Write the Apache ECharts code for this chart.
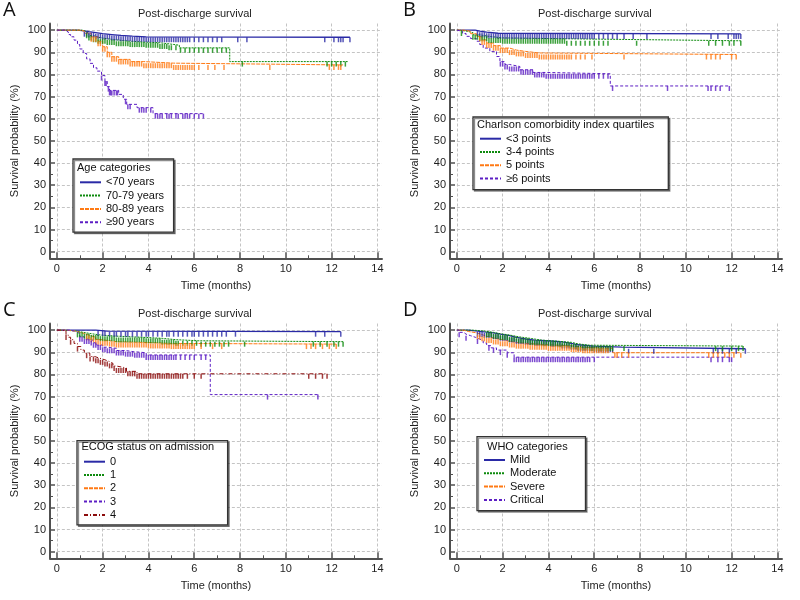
<!DOCTYPE html>
<html><head><meta charset="utf-8">
<script src="https://cdn.jsdelivr.net/npm/echarts@6/dist/echarts.min.js"></script>
<style>html,body{margin:0;padding:0;background:#fff}#c{width:800px;height:600px}</style>
</head><body><div id="c"></div><script>
// ---------- tick labels ----------
const xTickLabels = [0, 2, 4, 6, 8, 10, 12, 14];
const xMinorTicks = [1, 3, 5, 7, 9, 11, 13];
const yTickLabels = [0, 10, 20, 30, 40, 50, 60, 70, 80, 90, 100];
const yMinorTicks = [5, 15, 25, 35, 45, 55, 65, 75, 85, 95];
const panelLetters = ['A', 'B', 'C', 'D'];
const panelTitle = 'Post-discharge survival';
const xName = 'Time (months)';
const yName = 'Survival probability (%)';
const legendTitles = ['Age categories', 'Charlson comorbidity index quartiles', 'ECOG status on admission', 'WHO categories'];

// ---------- Panel A: age categories ----------
const ageGroups = ['<70 years', '70-79 years', '80-89 years', '≥90 years'];
const ageLt70 = [[0,100],[0.9,99.7],[1.2,99.3],[1.4,98.9],[1.7,98.4],[2.0,98.0],[2.4,97.6],[2.8,97.3],[3.3,97.0],[3.9,96.8],[12.8,96.8]];
const ageLt70Cens = [1.2,1.3,1.4,1.5,1.6,1.7,1.8,1.9,2.0,2.1,2.2,2.3,2.4,2.5,2.6,2.7,2.8,2.9,3.0,3.1,3.2,3.3,3.4,3.5,3.6,3.7,3.8,3.9,4.0,4.1,4.2,4.3,4.4,4.5,4.6,4.7,4.8,4.9,5.0,5.1,5.2,5.3,5.4,5.5,5.6,5.7,5.8,6.0,6.2,6.4,6.6,6.8,7.0,7.2,7.9,8.3,11.7,12.1,12.3,12.4,12.5,12.8];
const age7079 = [[0,100],[1.1,99.5],[1.25,98.6],[1.4,97.6],[1.6,96.8],[1.8,96.1],[2.2,95.6],[2.6,95.0],[3.2,94.6],[3.9,94.3],[4.5,93.8],[4.9,93.2],[5.35,92.0],[7.55,85.8],[12.7,85.8]];
const age7079Cens = [1.3,1.4,1.5,1.6,1.7,1.8,1.9,2.0,2.1,2.2,2.3,2.4,2.5,2.6,2.7,2.8,2.9,3.0,3.1,3.2,3.3,3.4,3.5,3.6,3.7,3.8,3.9,4.0,4.1,4.2,4.3,4.4,4.5,4.6,4.7,4.8,4.9,5.0,5.2,5.4,5.6,5.8,6.0,6.2,6.4,6.6,6.8,7.0,7.2,7.4,8.1,11.8,12.0,12.2,12.4,12.6];
const age8089 = [[0,100],[1.0,99.6],[1.2,98.6],[1.5,97.0],[1.8,95.0],[2.0,92.5],[2.2,90.0],[2.4,88.0],[2.7,86.8],[3.2,85.8],[3.8,85.1],[5.1,84.3],[12.5,84.3]];
const age8089Cens = [1.5,1.6,1.7,1.8,1.9,2.0,2.1,2.2,2.3,2.4,2.5,2.6,2.7,2.8,2.9,3.0,3.1,3.2,3.3,3.4,3.5,3.6,3.7,3.8,3.9,4.0,4.1,4.2,4.3,4.4,4.5,4.6,4.7,4.8,4.9,5.0,5.1,5.2,5.3,5.4,5.5,5.6,5.7,5.8,5.9,6.0,6.2,6.6,6.9,7.3,9.3,11.9,12.1,12.3,12.4];
const age90 = [[0,100],[0.35,99.2],[0.5,98.0],[0.6,97.0],[0.75,95.5],[0.9,93.5],[1.0,91.5],[1.15,89.5],[1.3,87.0],[1.45,85.0],[1.6,83.0],[1.75,81.5],[1.95,79.5],[2.1,77.0],[2.2,74.5],[2.3,72.8],[2.7,71.0],[2.9,68.8],[3.05,66.5],[3.5,65.0],[4.2,62.3],[6.4,62.3]];
const age90Cens = [1.95,2.1,2.15,2.25,2.3,2.35,2.4,2.5,2.6,2.65,3.0,3.1,3.2,3.6,3.7,3.8,3.9,4.1,4.3,4.4,4.5,4.6,4.8,4.9,5.0,5.2,5.3,5.5,5.6,5.7,5.8,6.0,6.2,6.4];

// ---------- Panel B: Charlson comorbidity index ----------
const cciGroups = ['<3 points', '3-4 points', '5 points', '≥6 points'];
const cciLt3 = [[0,100],[0.8,99.6],[1.0,99.1],[1.3,98.6],[1.8,98.3],[12.4,98.3]];
const cciLt3Cens = [0.9,1.0,1.1,1.2,1.3,1.4,1.5,1.6,1.7,1.8,1.9,2.0,2.1,2.2,2.3,2.4,2.5,2.6,2.7,2.8,2.9,3.0,3.1,3.2,3.3,3.4,3.5,3.6,3.7,3.8,3.9,4.0,4.1,4.2,4.3,4.4,4.5,4.6,4.7,4.8,4.9,5.0,5.1,5.2,5.3,5.4,5.5,5.6,5.7,5.8,5.9,6.0,6.2,6.4,6.6,6.8,7.0,7.3,7.7,8.3,11.1,11.4,11.85,12.1,12.2,12.3,12.4];
const cci34 = [[0,100],[0.1,99.6],[0.4,98.9],[0.7,97.9],[1.0,97.2],[1.4,96.5],[2.0,96.1],[4.8,95.2],[12.4,95.2]];
const cci34Cens = [0.2,0.7,0.8,0.9,1.0,1.1,1.2,1.3,1.4,1.5,1.6,1.7,1.8,1.9,2.0,2.1,2.2,2.3,2.4,2.5,2.6,2.7,2.8,2.9,3.0,3.1,3.2,3.3,3.4,3.5,3.6,3.7,3.8,3.9,4.0,4.1,4.2,4.3,4.4,4.5,4.6,4.7,4.8,5.0,5.2,5.4,5.6,5.8,6.0,6.2,6.4,6.6,7.85,11.0,11.3,11.6,11.9,12.1,12.4];
const cci5 = [[0,100],[0.3,99.5],[0.6,98.4],[0.86,97.2],[1.1,95.6],[1.3,94.2],[1.6,93.0],[1.9,91.9],[2.3,91.0],[2.6,90.4],[3.0,89.7],[3.6,89.0],[12.2,89.0]];
const cci5Cens = [1.0,1.1,1.2,1.3,1.4,1.5,1.6,1.7,1.8,1.9,2.0,2.1,2.2,2.3,2.4,2.5,2.6,2.7,2.8,2.9,3.0,3.1,3.2,3.3,3.4,3.5,3.6,3.7,3.8,3.9,4.0,4.1,4.2,4.3,4.4,4.5,4.6,4.7,4.8,4.9,5.0,5.2,5.4,5.6,5.9,7.3,10.9,11.1,11.3,11.5,12.0,12.2];
const cci6 = [[0,100],[0.06,99.5],[0.25,98.5],[0.4,97.2],[0.6,96.2],[0.86,95.0],[1.0,93.5],[1.15,91.9],[1.44,90.4],[1.73,88.1],[1.88,85.8],[2.1,84.5],[2.3,83.6],[2.75,82.1],[3.33,80.9],[3.9,80.3],[6.7,74.8],[11.9,74.8]];
const cci6Cens = [1.9,2.0,2.1,2.2,2.3,2.4,2.5,2.6,2.7,2.8,2.9,3.0,3.1,3.2,3.3,3.4,3.5,3.6,3.7,3.8,3.9,4.0,4.1,4.2,4.3,4.4,4.5,4.6,4.7,4.8,4.9,5.0,5.1,5.2,5.3,5.4,5.5,5.6,5.7,5.8,5.9,6.0,6.2,6.4,6.6,6.8,9.2,10.97,11.1,11.3,11.5,11.9];

// ---------- Panel C: ECOG status ----------
const ecogGroups = ['0', '1', '2', '3', '4'];
const ecog0 = [[0,100],[1.7,99.6],[2.2,99.3],[12.4,99.3]];
const ecog0Cens = [1.8,2.0,2.1,2.3,2.5,2.6,2.8,3.0,3.1,3.3,3.5,3.7,3.9,4.0,4.2,4.4,4.6,4.8,4.9,5.1,5.3,5.5,5.7,5.9,6.0,6.2,6.4,6.6,6.8,7.0,7.2,7.4,7.8,11.3,11.7,12.4];
const ecog1 = [[0,100],[0.3,99.6],[0.86,99.0],[1.15,98.4],[1.5,97.8],[1.9,97.3],[2.6,96.7],[3.9,96.3],[4.6,95.7],[5.2,95.2],[6.2,94.8],[12.5,94.8]];
const ecog1Cens = [0.9,1.0,1.1,1.2,1.3,1.4,1.5,1.6,1.7,1.8,1.9,2.0,2.1,2.2,2.3,2.4,2.5,2.6,2.7,2.8,2.9,3.0,3.1,3.2,3.3,3.4,3.5,3.6,3.7,3.8,3.9,4.0,4.1,4.2,4.3,4.4,4.5,4.6,4.7,4.8,4.9,5.0,5.1,5.2,5.3,5.5,5.7,5.9,6.1,6.3,6.5,6.7,6.9,7.1,7.3,7.5,8.2,11.2,11.5,11.8,12.1,12.3,12.5];
const ecog2 = [[0,100],[0.4,99.6],[0.8,99.0],[1.0,98.5],[1.2,97.6],[1.44,96.8],[1.7,95.8],[1.88,95.2],[2.3,94.8],[2.6,94.4],[4.0,94.0],[5.0,93.7],[12.2,93.7]];
const ecog2Cens = [1.3,1.4,1.5,1.6,1.7,1.8,1.9,2.0,2.1,2.2,2.3,2.4,2.5,2.6,2.7,2.8,2.9,3.0,3.1,3.2,3.3,3.4,3.5,3.6,3.7,3.8,3.9,4.0,4.1,4.2,4.3,4.4,4.5,4.6,4.7,4.8,4.9,5.0,5.1,5.2,5.3,5.4,5.5,5.6,5.7,5.8,5.9,6.0,6.3,6.8,7.2,10.9,11.1,11.3,11.6,11.9,12.2];
const ecog3 = [[0,100],[0.6,99.3],[0.86,98.4],[1.0,97.0],[1.2,96.0],[1.44,95.3],[1.6,94.3],[1.73,93.3],[2.0,92.3],[2.17,91.8],[2.6,90.8],[3.0,90.3],[3.33,89.8],[3.9,88.8],[6.7,70.9],[11.4,70.9]];
const ecog3Cens = [1.0,1.1,1.2,1.3,1.4,1.5,1.6,1.7,1.8,1.9,2.0,2.1,2.2,2.3,2.4,2.5,2.6,2.7,2.8,2.9,3.0,3.1,3.2,3.3,3.4,3.5,3.6,3.7,3.8,3.9,4.0,4.1,4.2,4.3,4.4,4.5,4.6,4.7,4.8,4.9,5.0,5.1,5.2,5.4,5.6,5.8,6.0,6.3,6.5,9.2,11.4];
const ecog4 = [[0,100],[0.2,99.6],[0.4,97.8],[0.5,96.8],[0.6,95.7],[0.75,94.0],[0.9,92.6],[1.05,91.0],[1.2,89.6],[1.44,88.1],[1.65,87.3],[1.88,86.6],[2.1,85.8],[2.3,85.0],[2.45,83.8],[2.6,82.9],[3.04,81.4],[3.5,80.3],[11.8,80.3]];
const ecog4Cens = [0.4,0.6,0.9,1.3,1.45,1.6,1.7,1.8,1.9,2.0,2.1,2.2,2.3,2.4,2.5,2.6,2.7,2.8,2.9,3.0,3.1,3.2,3.3,3.4,3.5,3.6,3.7,3.8,3.9,4.0,4.1,4.2,4.3,4.4,4.5,4.6,4.7,4.8,4.9,5.0,5.1,5.2,5.3,5.4,5.5,5.7,6.0,6.3,11.0,11.3,11.6,11.8];

// ---------- Panel D: WHO categories ----------
const whoGroups = ['Mild', 'Moderate', 'Severe', 'Critical'];
const whoMild = [[0,100],[0.5,99.6],[0.9,99.2],[1.2,98.8],[1.6,98.2],[1.9,97.5],[2.3,96.7],[2.6,96.0],[3.0,95.5],[3.4,95.1],[4.1,94.7],[4.6,94.0],[5.0,93.4],[5.3,92.8],[6.0,92.3],[7.2,91.6],[12.6,91.6]];
const whoMildCens = [0.9,1.0,1.1,1.2,1.3,1.4,1.5,1.6,1.7,1.8,1.9,2.0,2.1,2.2,2.3,2.4,2.5,2.6,2.7,2.8,2.9,3.0,3.1,3.2,3.3,3.4,3.5,3.6,3.7,3.8,3.9,4.0,4.1,4.2,4.3,4.4,4.5,4.6,4.7,4.8,4.9,5.0,5.1,5.2,5.3,5.4,5.5,5.6,5.7,5.8,5.9,6.0,6.1,6.2,6.3,6.4,6.5,6.6,6.7,6.8,7.5,8.6,11.2,11.4,11.6,11.9,12.2,12.6];
const whoModerate = [[0,100],[0.7,99.6],[1.2,99.0],[1.6,98.4],[1.9,97.8],[2.3,97.0],[2.7,96.3],[3.2,95.5],[3.7,95.0],[4.4,94.5],[5.0,93.8],[5.3,93.2],[5.8,92.8],[12.5,92.8]];
const whoModerateCens = [1.3,1.4,1.5,1.6,1.7,1.8,1.9,2.0,2.1,2.2,2.3,2.4,2.5,2.6,2.7,2.8,2.9,3.0,3.1,3.2,3.3,3.4,3.5,3.6,3.7,3.8,3.9,4.0,4.1,4.2,4.3,4.4,4.5,4.6,4.7,4.8,4.9,5.0,5.1,5.2,5.3,5.4,5.5,5.6,5.7,5.8,5.9,6.0,6.1,6.2,6.3,6.4,6.5,6.6,6.7,6.8,7.3,11.3,11.6,12.0,12.3,12.5];
const whoSevere = [[0,100],[0.3,99.4],[0.5,98.8],[0.86,98.0],[1.1,97.2],[1.3,96.5],[1.6,95.8],[1.9,95.0],[2.3,94.4],[2.6,93.9],[3.2,93.4],[4.0,92.9],[5.0,92.3],[5.5,91.8],[6.8,89.8],[12.4,89.8]];
const whoSevereCens = [0.9,1.0,1.1,1.2,1.3,1.4,1.5,1.6,1.7,1.8,1.9,2.0,2.1,2.2,2.3,2.4,2.5,2.6,2.7,2.8,2.9,3.0,3.1,3.2,3.3,3.4,3.5,3.6,3.7,3.8,3.9,4.0,4.1,4.2,4.3,4.4,4.5,4.6,4.7,4.8,4.9,5.0,5.1,5.2,5.3,5.4,5.5,5.6,5.7,5.8,5.9,6.0,6.1,6.2,6.3,6.4,6.5,6.6,6.9,7.0,7.2,7.5,11.0,11.2,11.4,11.7,11.9,12.1,12.4];
const whoCritical = [[0,100],[0.1,99.0],[0.3,98.2],[0.4,97.5],[0.6,96.8],[0.8,96.0],[1.0,95.2],[1.15,94.2],[1.3,93.0],[1.5,92.0],[1.73,91.0],[2.2,89.8],[2.5,87.8],[12.0,87.8]];
const whoCriticalCens = [0.1,0.4,0.9,1.4,1.6,1.9,2.2,2.5,2.6,2.7,2.8,2.9,3.0,3.1,3.2,3.3,3.4,3.5,3.6,3.7,3.8,3.9,4.0,4.1,4.2,4.3,4.4,4.5,4.6,4.7,4.8,4.9,5.0,5.1,5.2,5.3,5.4,5.5,5.6,5.7,5.8,6.0,11.1,11.4,11.6,11.9,12.0];

// ---------- styling (not data) ----------
const C_BLUE = '#2a2aa6', C_GREEN = '#0d8a0d', C_ORANGE = '#ff7a14', C_PURPLE = '#5c1ec4', C_RED = '#8c0c0c';
const STYLE = {
  blue:   { color: C_BLUE,   width: 1.3, type: 'solid' },
  green:  { color: C_GREEN,  width: 1,   type: [2, 1] },
  orange: { color: C_ORANGE, width: 1,   type: [4, 1] },
  purple: { color: C_PURPLE, width: 1,   type: [3, 2] },
  red:    { color: C_RED,    width: 1,   type: [4, 2, 1, 2] }
};
const FONT = 'Liberation Sans';

const panels = [
  { names: ageGroups, curves: [ageLt70, age7079, age8089, age90], cens: [ageLt70Cens, age7079Cens, age8089Cens, age90Cens], styles: ['blue','green','orange','purple'],
    legend: { left: 73, top: 159, pad: [17.8, 9.5, 4.5, 6] }, ltitle: { left: 77, top: 162.5 } },
  { names: cciGroups, curves: [cciLt3, cci34, cci5, cci6], cens: [cciLt3Cens, cci34Cens, cci5Cens, cci6Cens], styles: ['blue','green','orange','purple'],
    legend: { left: 73, top: 117, pad: [16.2, 114, 5.5, 6] }, ltitle: { left: 77, top: 119.5 } },
  { names: ecogGroups, curves: [ecog0, ecog1, ecog2, ecog3, ecog4], cens: [ecog0Cens, ecog1Cens, ecog2Cens, ecog3Cens, ecog4Cens], styles: ['blue','green','orange','purple','red'],
    legend: { left: 77, top: 140.7, pad: [15.5, 111.5, 4.5, 6] }, ltitle: { left: 81.5, top: 141 } },
  { names: whoGroups, curves: [whoMild, whoModerate, whoSevere, whoCritical], cens: [whoMildCens, whoModerateCens, whoSevereCens, whoCriticalCens], styles: ['blue','green','orange','purple'],
    legend: { left: 77, top: 136.7, pad: [17.8, 29, 5.2, 6] }, ltitle: { left: 87, top: 141 } }
];
const offsets = [[0,0],[400,0],[0,300],[400,300]];

function stepAt(curve, t) {
  let v = curve[0][1];
  for (const p of curve) { if (p[0] <= t) v = p[1]; else break; }
  return v;
}

const X_MIN = -0.3, X_MAX = 14.2, Y_MIN = -3, Y_MAX = 103;
const FRAME_L = 50, FRAME_T = 23.5, FRAME_W = 332, FRAME_H = 234.8;
const pxX = FRAME_W / (X_MAX - X_MIN), pxY = FRAME_H / (Y_MAX - Y_MIN);

const grid = [], xAxis = [], yAxis = [], series = [], title = [], legend = [];
const axisColor = '#505050', textColor = '#1e1e1e';

panels.forEach((P, p) => {
  const [ox, oy] = offsets[p];
  const gFrame = grid.length;
  grid.push({ left: ox + FRAME_L, top: oy + FRAME_T, width: FRAME_W, height: FRAME_H });
  const gData = grid.length;
  grid.push({ left: ox + FRAME_L + (0 - X_MIN) * pxX, top: oy + FRAME_T, width: (X_MAX - 0) * pxX, height: (Y_MAX - 0) * pxY });

  xAxis.push({ gridIndex: gFrame, type: 'value', position: 'bottom', min: X_MIN, max: X_MAX,
    axisLine: { show: true, onZero: false, lineStyle: { color: axisColor, width: 2 } },
    axisTick: { show: true, inside: true, length: 6, customValues: xTickLabels, lineStyle: { color: axisColor, width: 1.5 } },
    axisLabel: { show: true, customValues: xTickLabels, fontSize: 11, color: textColor, margin: 5, fontFamily: FONT },
    splitLine: { show: false },
    name: xName, nameLocation: 'middle', nameGap: 22, nameTextStyle: { fontSize: 11, color: textColor, fontFamily: FONT } });
  xAxis.push({ gridIndex: gFrame, type: 'value', position: 'bottom', min: X_MIN, max: X_MAX,
    axisLine: { show: false, onZero: false },
    axisTick: { show: true, inside: true, length: 3, customValues: xMinorTicks, lineStyle: { color: axisColor, width: 1 } },
    axisLabel: { show: false }, splitLine: { show: false } });
  const xData = xAxis.length;
  xAxis.push({ gridIndex: gData, type: 'value', position: 'bottom', min: 0, max: X_MAX, interval: 2,
    axisLine: { show: false, onZero: false }, axisTick: { show: false }, axisLabel: { show: false },
    splitLine: { show: true, showMaxLine: false, lineStyle: { color: '#c4c4c4', width: 1, type: [3, 2] } } });

  yAxis.push({ gridIndex: gFrame, type: 'value', position: 'left', min: Y_MIN, max: Y_MAX,
    axisLine: { show: true, onZero: false, lineStyle: { color: axisColor, width: 2 } },
    axisTick: { show: true, inside: true, length: 5, customValues: yTickLabels, lineStyle: { color: axisColor, width: 1.5 } },
    axisLabel: { show: true, customValues: yTickLabels, fontSize: 11, color: textColor, margin: 4, fontFamily: FONT },
    splitLine: { show: false },
    name: yName, nameLocation: 'middle', nameGap: 30, nameTextStyle: { fontSize: 11, color: textColor, fontFamily: FONT } });
  yAxis.push({ gridIndex: gFrame, type: 'value', position: 'left', min: Y_MIN, max: Y_MAX,
    axisLine: { show: false, onZero: false },
    axisTick: { show: true, inside: true, length: 3, customValues: yMinorTicks, lineStyle: { color: axisColor, width: 1 } },
    axisLabel: { show: false }, splitLine: { show: false } });
  const yData = yAxis.length;
  yAxis.push({ gridIndex: gData, type: 'value', position: 'left', min: 0, max: Y_MAX, interval: 10,
    axisLine: { show: false, onZero: false }, axisTick: { show: false }, axisLabel: { show: false },
    splitLine: { show: true, showMaxLine: false, lineStyle: { color: '#c4c4c4', width: 1, type: [3, 2] } } });

  P.names.forEach((nm, i) => {
    const st = STYLE[P.styles[i]];
    series.push({ type: 'line', name: nm, xAxisIndex: xData, yAxisIndex: yData, step: 'end', symbol: 'none',
      data: P.curves[i], lineStyle: { color: st.color, width: st.width, type: st.type }, itemStyle: { color: st.color },
      animation: false, silent: true, z: 3 });
    series.push({ type: 'scatter', name: nm + ' (censored)', xAxisIndex: xData, yAxisIndex: yData,
      data: P.cens[i].map(t => [t, stepAt(P.curves[i], t)]),
      symbol: 'rect', symbolSize: [1.5, 5], symbolOffset: [0, 2.5], itemStyle: { color: st.color },
      animation: false, silent: true, z: 3 });
  });

  title.push({ text: panelLetters[p], left: ox + 3, top: oy, padding: 0,
    textStyle: { fontSize: 20, fontWeight: 'normal', color: '#111', fontFamily: 'Open Sans' } });
  title.push({ text: panelTitle, left: ox + 138, top: oy + 8, padding: 0,
    textStyle: { fontSize: 11, fontWeight: 'normal', color: textColor, fontFamily: FONT } });
  title.push({ text: legendTitles[p], left: ox + P.ltitle.left, top: oy + P.ltitle.top, padding: 0, z: 10,
    textStyle: { fontSize: 11, fontWeight: 'normal', color: '#111', fontFamily: FONT } });

  legend.push({ orient: 'vertical', left: ox + P.legend.left, top: oy + P.legend.top, padding: P.legend.pad,
    itemWidth: 21, itemHeight: 8, itemGap: 2.3, selectedMode: false,
    itemStyle: { color: 'rgba(0,0,0,0)', borderColor: 'rgba(0,0,0,0)', borderWidth: 0 },
    backgroundColor: '#fff', borderColor: '#333', borderWidth: 1.3, borderRadius: 0,
    shadowColor: 'rgba(0,0,0,0.45)', shadowOffsetX: 1.5, shadowOffsetY: 1.5, shadowBlur: 0,
    data: P.names.slice(), textStyle: { fontSize: 11, color: '#111', fontFamily: FONT }, z: 5 });
});

const chart = echarts.init(document.getElementById('c'), null, { renderer: 'canvas' });
chart.setOption({ animation: false, backgroundColor: '#fff', textStyle: { fontFamily: FONT },
  grid, xAxis, yAxis, series, title, legend });
</script></body></html>
